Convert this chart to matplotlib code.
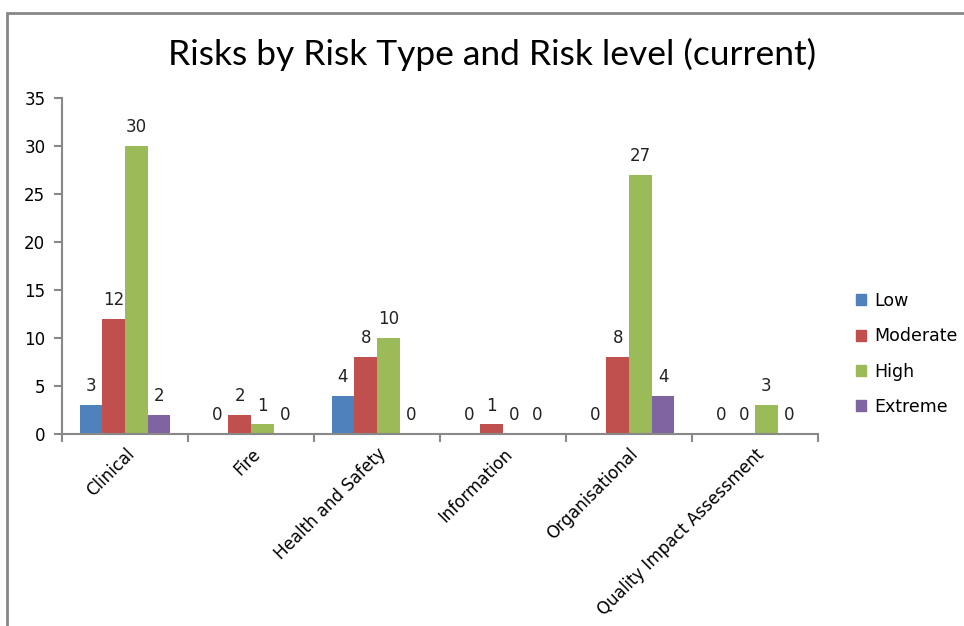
import matplotlib
matplotlib.use("Agg")
import matplotlib.pyplot as plt
import matplotlib.patches as mpatches
import numpy as np

categories = ["Clinical", "Fire", "Health and Safety", "Information",
              "Organisational", "Quality Impact Assessment"]
levels = ["Low", "Moderate", "High", "Extreme"]
low = [3, 0, 4, 0, 0, 0]
moderate = [12, 2, 8, 1, 8, 0]
high = [30, 1, 10, 0, 27, 3]
extreme = [2, 0, 0, 0, 4, 0]
series = [low, moderate, high, extreme]
colors = ["#4F81BD", "#C0504D", "#9BBB59", "#8064A2"]

W, H = 964, 626
fig = plt.figure(figsize=(W / 100, H / 100), dpi=100)
ax = fig.add_axes([62 / W, 1 - 434 / H, (818 - 62) / W, (434 - 98) / H])

# outer chart border (Excel style)
fig.patches.append(mpatches.Rectangle((7 / W, -0.05), 1.2, 1 - 13 / H + 0.05,
                                      transform=fig.transFigure, fill=False,
                                      edgecolor="#878787", linewidth=2))

x = np.arange(len(categories))
bw = 0.18
for i, (vals, col, lab) in enumerate(zip(series, colors, levels)):
    pos = x + (i - 1.5) * bw
    ax.bar(pos, vals, width=bw, color=col, label=lab, zorder=2)
    for p, v in zip(pos, vals):
        ax.annotate(str(v), (p, v), xytext=(0, 7), textcoords="offset points",
                    ha="center", va="bottom", fontsize=12, color="#222222")

ax.set_xlim(-0.5, len(categories) - 0.5)
ax.set_ylim(0, 35)
ax.set_yticks(range(0, 36, 5))
ax.set_xticks(np.arange(len(categories) + 1) - 0.5)
ax.set_xticklabels([])
ax.set_xticks(x, minor=True)
ax.set_xticklabels(categories, minor=True, rotation=45, ha="right",
                   va="top", rotation_mode="anchor", fontsize=12)
ax.tick_params(axis="x", which="minor", length=0, pad=8)
ax.tick_params(axis="x", which="major", length=6, color="#888888", width=1.5)
ax.tick_params(axis="y", length=6, color="#888888", width=1.5, labelsize=12, pad=6)

for s in ["top", "right"]:
    ax.spines[s].set_visible(False)
for s in ["left", "bottom"]:
    ax.spines[s].set_color("#888888")
    ax.spines[s].set_linewidth(1.5)

fig.text(492 / W, 1 - 54 / H, "Risks by Risk Type and Risk level (current)",
         ha="center", va="center", fontsize=25.5, family="Lato")

handles = [mpatches.Patch(color=c) for c in colors]
fig.legend(handles, levels, loc="center left", bbox_to_anchor=(840 / W, 1 - 354 / H),
           frameon=False, fontsize=12.5, handlelength=0.6, handleheight=0.6,
           handletextpad=0.5, labelspacing=1.0)

fig.savefig("out.png", dpi=100)
